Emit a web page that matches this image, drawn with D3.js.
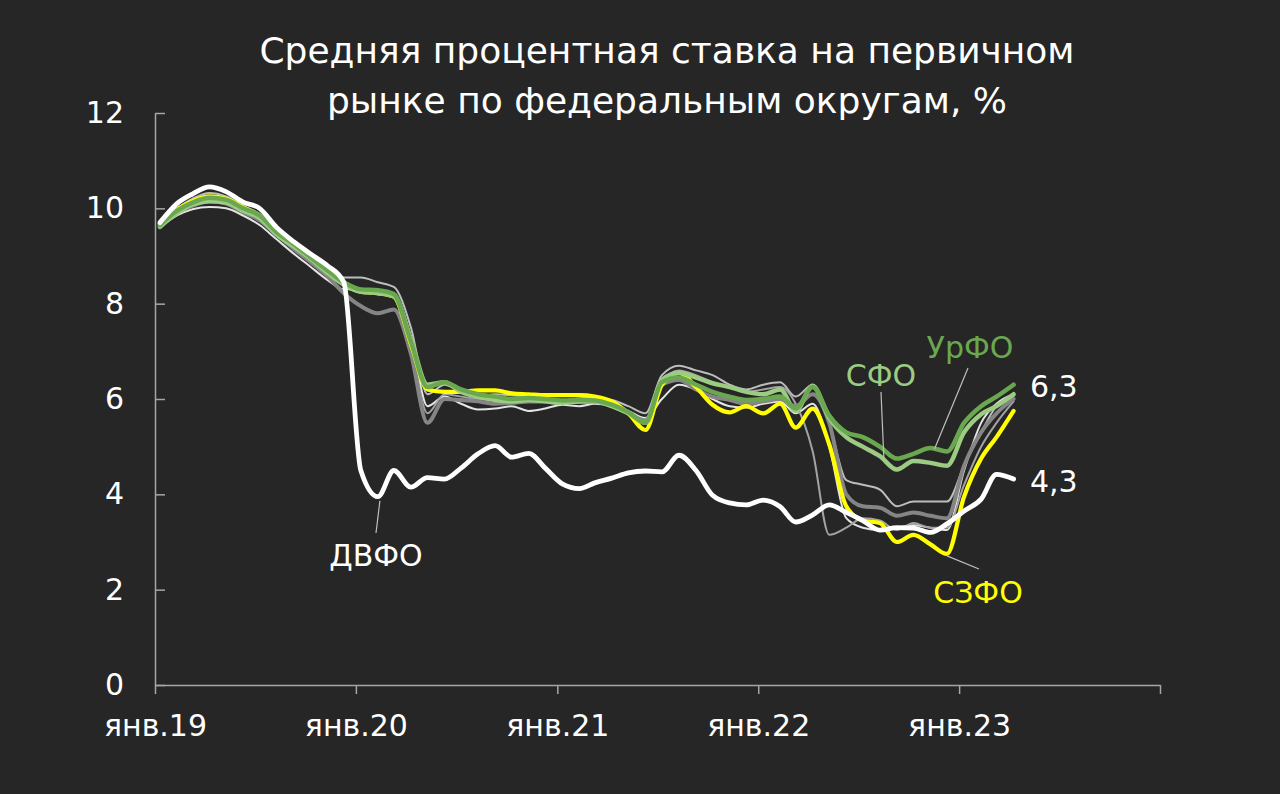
<!DOCTYPE html>
<html><head><meta charset="utf-8">
<script src="https://cdnjs.cloudflare.com/ajax/libs/d3/7.8.5/d3.min.js"></script>
<style>html,body{margin:0;padding:0;background:#262626;}svg{display:block}</style>
</head><body>
<svg id="chart" width="1280" height="794"></svg>
<script>
// ---- DATA ----
const titleLines = ["Средняя процентная ставка на первичном", "рынке по федеральным округам, %"];
const monthCount = 52; // Jan 2019 .. Apr 2023, monthly
const yTicks = [0, 2, 4, 6, 8, 10, 12];
const xTickYears = [2019, 2020, 2021, 2022, 2023, 2024];
const xTickLabels = ["янв.19", "янв.20", "янв.21", "янв.22", "янв.23", ""];

const yufo = [9.7,10.0,10.2,10.32,10.25,10.05,9.88,9.55,9.28,9.0,8.75,8.55,8.55,8.45,8.35,7.5,6.1,6.3,6.15,6.05,6.1,6.08,6.05,6.1,6.1,6.05,6.02,5.98,5.85,5.7,6.5,6.7,6.6,6.5,6.3,6.2,6.3,6.35,6.05,6.3,5.5,4.3,4.2,4.1,3.75,3.85,3.85,3.85,4.6,5.3,5.85,6.05];
const pfo = [9.6,9.85,9.98,10.03,10.0,9.85,9.65,9.35,9.05,8.78,8.5,8.3,8.3,8.25,8.2,7.3,5.85,6.05,5.9,5.78,5.8,5.85,5.75,5.8,5.88,5.85,5.9,5.85,5.75,5.6,6.0,6.3,6.2,6.0,5.85,5.82,5.9,5.95,5.7,5.9,5.0,3.5,3.3,3.25,3.3,3.35,3.3,3.25,4.5,5.5,5.9,6.1];
const skfo = [9.65,9.92,10.08,10.18,10.12,9.95,9.78,9.48,9.2,8.95,8.65,8.4,8.28,8.22,8.15,7.1,5.7,6.1,6.05,6.0,5.98,6.0,6.0,5.98,5.95,5.98,5.95,5.9,5.75,5.55,6.35,6.6,6.5,6.35,6.25,6.15,6.2,6.25,5.9,4.9,3.15,3.3,3.5,3.45,3.25,3.4,3.3,3.3,4.2,5.0,5.5,5.95];
const cfo = [9.6,9.9,10.05,10.15,10.1,9.92,9.75,9.45,9.15,8.88,8.58,8.22,7.95,7.8,7.88,6.95,5.5,6.0,5.98,5.95,5.9,5.92,5.95,5.95,5.93,5.95,5.95,5.85,5.7,5.55,6.3,6.4,6.2,6.05,5.98,5.9,5.95,6.0,5.85,6.1,5.5,4.0,3.75,3.72,3.55,3.62,3.55,3.5,4.6,5.3,5.7,6.0];
const szfo = [9.65,9.97,10.15,10.25,10.2,10.02,9.85,9.5,9.25,8.98,8.7,8.4,8.25,8.22,8.15,7.15,6.2,6.15,6.15,6.18,6.18,6.12,6.1,6.08,6.08,6.08,6.05,5.95,5.7,5.35,6.3,6.55,6.25,5.88,5.72,5.85,5.7,5.9,5.4,5.8,5.05,3.75,3.45,3.4,3.0,3.15,2.95,2.75,3.95,4.75,5.2,5.75];
const sfo = [9.62,9.9,10.08,10.15,10.12,9.95,9.8,9.45,9.2,8.95,8.65,8.4,8.25,8.22,8.15,7.25,6.3,6.35,6.15,6.05,5.98,5.95,5.98,5.95,5.92,5.95,5.95,5.85,5.7,5.5,6.4,6.55,6.45,6.33,6.25,6.15,6.1,6.2,5.75,6.28,5.6,5.2,5.0,4.8,4.52,4.7,4.66,4.6,5.3,5.68,5.85,6.1];
const urfo = [9.65,9.95,10.12,10.22,10.18,10.0,9.85,9.5,9.25,8.98,8.7,8.45,8.3,8.28,8.2,7.2,6.25,6.35,6.2,6.1,6.05,6.0,6.02,6.0,5.97,5.98,5.97,5.88,5.72,5.5,6.35,6.45,6.3,6.15,6.05,5.98,6.0,6.05,5.8,6.25,5.65,5.3,5.2,5.0,4.75,4.85,4.97,4.9,5.5,5.85,6.05,6.3];
const dvfo = [9.7,10.1,10.3,10.45,10.35,10.13,10.0,9.6,9.3,9.05,8.8,8.45,4.5,3.95,4.5,4.15,4.35,4.32,4.55,4.85,5.02,4.78,4.86,4.55,4.22,4.12,4.24,4.34,4.45,4.49,4.47,4.82,4.5,3.98,3.82,3.78,3.88,3.74,3.42,3.57,3.78,3.62,3.45,3.25,3.3,3.29,3.2,3.38,3.65,3.9,4.42,4.32];

const seriesNames = ["ЮФО","ПФО","СКФО","ЦФО","СЗФО","СФО","УрФО","ДВФО"];
const seriesValues = [yufo, pfo, skfo, cfo, szfo, sfo, urfo, dvfo];
const seriesColors = ["#bdbdbd","#e4e4e4","#a3a3a3","#858585","#ffff00","#9ccb82","#6aa84f","#ffffff"];
const seriesWidths = [2, 2, 2, 4, 4.2, 4.5, 4.5, 4.8];

const annNames = ["ДВФО","СФО","УрФО","СЗФО"];
const annColors = ["#ffffff","#9ccb82","#6aa84f","#ffff00"];
const endLabels = ["6,3","4,3"];

// ---- CHART ----
const W = 1280, H = 794;
const svg = d3.select("#chart");
svg.append("rect").attr("width", W).attr("height", H).attr("fill", "#262626");

const x = d3.scaleTime().domain([new Date(2019,0,1), new Date(2024,0,1)]).range([155, 1160]);
const y = d3.scaleLinear().domain([0, 12]).range([685, 113]);
const dateOf = i => new Date(2019, i, 10);

const font = "'DejaVu Sans', Verdana, sans-serif";

// title
svg.append("g").selectAll("text").data(titleLines).join("text")
  .attr("x", 667).attr("y", (d,i) => 63 + i*50)
  .attr("text-anchor", "middle").attr("fill", "#ffffff")
  .style("font-family", font).style("font-size", "36px")
  .text(d => d);

// axes
const axisColor = "#a6a6a6";
const yAxis = d3.axisLeft(y).tickValues(yTicks).tickSizeInner(-10).tickSizeOuter(0).tickPadding(31);
const gy = svg.append("g").attr("transform", "translate(155,0)").call(yAxis);
const xAxis = d3.axisBottom(x).tickValues(xTickYears.map(yr => new Date(yr,0,1)))
  .tickFormat((d,i) => xTickLabels[i]).tickSizeInner(9).tickSizeOuter(0).tickPadding(21);
const gx = svg.append("g").attr("transform", "translate(0,685)").call(xAxis);
[gx, gy].forEach(g => {
  g.select(".domain").attr("stroke", axisColor).attr("stroke-width", 1.5);
  g.selectAll(".tick line").attr("stroke", axisColor).attr("stroke-width", 1.5);
  g.selectAll(".tick text").attr("fill", "#ffffff").style("font-family", font).style("font-size", "30px");
});

// lines
const line = d3.line().x((d,i) => x(dateOf(i))).y(d => y(d)).curve(d3.curveMonotoneX);
svg.append("g").selectAll("path").data(seriesValues).join("path")
  .attr("d", d => line(d))
  .attr("fill", "none")
  .attr("stroke", (d,i) => seriesColors[i])
  .attr("stroke-width", (d,i) => seriesWidths[i])
  .attr("stroke-linejoin", "round").attr("stroke-linecap", "round");

// annotations
const leader = "#bfbfbf";
const ann = svg.append("g").style("font-family", font).style("font-size", "30px");
function leaderLine(x1,y1,x2,y2){
  ann.append("line").attr("x1",x1).attr("y1",y1).attr("x2",x2).attr("y2",y2)
    .attr("stroke", leader).attr("stroke-width", 1.2);
}
leaderLine(x(dateOf(13)) + 2, y(dvfo[13]) + 4, 376, 533);
ann.append("text").attr("x", 376).attr("y", 566).attr("text-anchor","middle").attr("fill", annColors[0]).text(annNames[0]);
leaderLine(881, 392, x(dateOf(43)) + 4, y(sfo[43]) + 2);
ann.append("text").attr("x", 881).attr("y", 386).attr("text-anchor","middle").attr("fill", annColors[1]).text(annNames[1]);
leaderLine(968, 368, x(dateOf(46)) + 4, y(urfo[46]) + 1);
ann.append("text").attr("x", 970).attr("y", 358).attr("text-anchor","middle").attr("fill", annColors[2]).text(annNames[2]);
leaderLine(x(dateOf(47)), y(szfo[47]) + 2, 979, 569);
ann.append("text").attr("x", 978).attr("y", 603).attr("text-anchor","middle").attr("fill", annColors[3]).text(annNames[3]);
ann.append("text").attr("x", 1030).attr("y", 397).attr("fill", "#ffffff").text(endLabels[0]);
ann.append("text").attr("x", 1030).attr("y", 492).attr("fill", "#ffffff").text(endLabels[1]);
</script>
</body></html>
